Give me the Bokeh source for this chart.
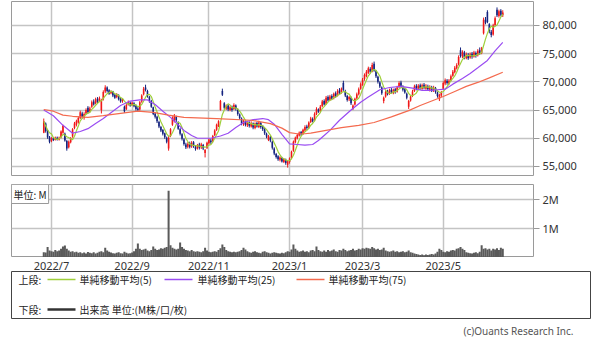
import numpy as np
import pandas as pd
from bokeh.plotting import figure
from bokeh.layouts import column
from bokeh.models import Range1d, FixedTicker, NumeralTickFormatter, Label, ColumnDataSource
from bokeh.core.properties import value
from bokeh.embed import file_html
from bokeh.resources import INLINE

# ---------------- data ----------------
JP_HOLIDAYS = ["2022-07-18", "2022-08-11", "2022-09-19", "2022-09-23", "2022-10-10",
               "2022-11-03", "2022-11-23", "2023-01-02", "2023-01-03", "2023-01-09",
               "2023-02-23", "2023-03-21", "2023-05-03", "2023-05-04", "2023-05-05"]
dates = pd.bdate_range("2022-06-27", "2023-06-16", freq="C", holidays=JP_HOLIDAYS)

tick_labels = ["2022/7", "2022/9", "2022/11", "2023/1", "2023/3", "2023/5"]
price_ticks = [55000, 60000, 65000, 70000, 75000, 80000]
vol_ticks = [1, 2]
vol_tick_labels = ["1M", "2M"]

# prices in thousands of yen
open_k = [61.0, 62.6, 61.4, 60.2, 59.5, 60.0, 59.7, 60.1, 59.8, 60.2,
          61.0, 60.8, 59.5, 58.4, 59.3, 60.3, 61.8, 62.4, 62.8, 63.6,
          64.4, 63.6, 64.4, 65.4, 64.8, 65.6, 66.5, 66.2, 67.0, 66.6,
          65.0, 66.9, 68.3, 69.0, 68.5, 68.0, 68.3, 67.7, 67.3, 67.6,
          67.0, 66.6, 65.6, 65.2, 66.0, 66.3, 65.9, 66.2, 65.8, 65.3,
          65.1, 66.5, 67.8, 69.0, 68.4, 67.3, 66.6, 65.5, 64.4, 63.8,
          62.9, 62.0, 61.5, 60.9, 60.1, 58.2, 60.4, 62.4, 63.0, 63.8,
          62.8, 61.6, 60.7, 59.8, 58.9, 58.5, 59.1, 58.6, 59.3, 58.5,
          58.2, 58.9, 58.4, 58.8, 57.4, 58.3, 59.1, 59.6, 59.5, 60.6,
          61.5, 62.2, 65.0, 68.4, 66.2, 65.3, 65.8, 65.0, 65.6, 65.2,
          65.8, 65.1, 64.2, 63.5, 62.5, 63.0, 62.3, 62.8, 62.1, 62.6,
          61.8, 62.7, 62.0, 62.7, 62.1, 61.6, 60.8, 59.7, 60.2, 59.4,
          58.2, 57.2, 56.8, 56.2, 56.5, 55.8, 56.2, 55.3, 55.8, 56.5,
          57.8, 59.3, 60.0, 60.5, 61.1, 60.8, 61.4, 62.1, 61.9, 62.9,
          63.4, 63.2, 64.3, 65.1, 64.8, 65.7, 66.6, 66.1, 67.3, 66.8,
          67.5, 67.1, 68.0, 67.6, 68.5, 68.1, 69.8, 68.4, 67.5, 66.9,
          67.2, 65.2, 66.0, 67.1, 67.8, 68.8, 69.5, 70.5, 71.0, 71.6,
          72.3, 71.9, 73.2, 71.9, 70.9, 69.9, 69.0, 66.6, 67.4, 68.3,
          67.9, 68.6, 68.0, 68.7, 68.3, 69.1, 69.9, 69.2, 68.7, 67.9,
          65.6, 66.7, 67.5, 68.4, 69.3, 68.8, 69.4, 68.8, 69.5, 68.8,
          69.2, 68.6, 69.0, 68.5, 68.9, 68.1, 66.9, 67.6, 68.8, 69.7,
          70.2, 69.7, 70.3, 71.1, 71.7, 72.4, 73.1, 75.6, 74.5, 75.2,
          74.2, 74.8, 74.3, 75.0, 74.5, 75.1, 74.7, 75.6, 75.1, 78.6,
          81.0, 82.4, 80.2, 78.9, 78.4, 80.1, 82.8, 81.7, 82.6, 81.8]

high_k = [63.5, 62.8, 61.5, 60.4, 60.2, 60.2, 60.3, 60.3, 60.3, 61.4,
          62.4, 61.0, 59.7, 59.6, 60.2, 61.8, 62.9, 63.3, 63.9, 64.9,
          64.7, 64.6, 65.3, 65.7, 65.6, 66.7, 66.9, 67.2, 67.3, 67.4,
          67.0, 68.5, 69.4, 69.2, 68.7, 68.5, 68.4, 67.9, 68.0, 67.8,
          67.2, 67.1, 65.8, 66.1, 66.7, 66.5, 66.5, 66.4, 66.0, 65.6,
          66.6, 67.8, 69.1, 69.5, 68.6, 67.5, 66.8, 65.6, 64.6, 64.0,
          63.1, 62.2, 61.6, 61.0, 60.3, 60.4, 61.8, 63.9, 64.3, 64.0,
          63.0, 61.8, 60.9, 60.0, 59.2, 59.3, 59.4, 59.5, 59.5, 58.8,
          59.0, 59.2, 59.2, 59.0, 58.1, 59.4, 60.0, 59.9, 60.6, 61.6,
          62.6, 63.2, 66.8, 68.8, 66.4, 66.0, 66.0, 65.7, 65.8, 66.2,
          66.0, 65.3, 64.4, 63.7, 63.3, 63.2, 63.1, 63.0, 63.0, 62.8,
          62.8, 62.9, 63.1, 62.9, 62.3, 61.8, 61.0, 60.6, 60.4, 59.6,
          58.4, 57.4, 57.0, 56.8, 56.7, 56.5, 56.4, 56.1, 56.6, 57.8,
          59.6, 60.3, 60.8, 61.2, 61.3, 61.7, 62.3, 62.4, 63.0, 63.8,
          63.7, 64.6, 65.5, 65.3, 65.9, 66.8, 66.9, 67.5, 67.6, 67.7,
          67.8, 68.1, 68.3, 68.7, 68.9, 69.0, 70.2, 68.6, 67.7, 67.5,
          67.4, 66.0, 67.2, 68.1, 69.0, 69.9, 70.7, 71.5, 72.1, 72.7,
          72.6, 73.4, 73.6, 72.1, 71.1, 70.1, 69.2, 67.4, 68.5, 68.6,
          68.8, 68.9, 68.8, 68.9, 69.3, 70.1, 70.2, 69.4, 68.9, 68.1,
          66.8, 67.6, 68.6, 69.5, 69.6, 69.6, 69.7, 69.7, 69.8, 69.6,
          69.5, 69.4, 69.3, 69.3, 69.1, 68.3, 67.9, 68.4, 70.1, 70.6,
          70.5, 70.5, 71.3, 72.1, 72.8, 73.3, 74.7, 76.1, 75.6, 75.5,
          75.2, 75.1, 75.2, 75.3, 75.5, 75.4, 75.8, 76.1, 76.2, 81.4,
          81.5, 82.7, 80.4, 79.2, 80.3, 81.6, 83.2, 82.8, 82.9, 82.7]

low_k = [60.9, 61.0, 59.9, 59.1, 59.3, 59.5, 59.6, 59.6, 59.6, 60.0,
         60.8, 59.4, 57.8, 58.2, 59.1, 60.1, 61.6, 62.1, 62.6, 63.4,
         63.5, 63.3, 64.2, 64.4, 64.6, 65.4, 65.8, 66.0, 66.2, 66.4,
         64.4, 66.7, 68.0, 68.1, 67.7, 67.8, 67.3, 67.0, 67.1, 66.7,
         66.3, 66.3, 64.5, 65.0, 65.8, 65.6, 65.7, 65.5, 64.9, 64.7,
         64.9, 66.3, 67.6, 68.3, 67.2, 66.3, 65.4, 64.1, 63.5, 62.7,
         61.8, 61.1, 60.5, 59.9, 59.1, 57.8, 60.2, 62.2, 62.8, 62.9,
         61.5, 60.5, 59.6, 58.7, 58.1, 58.2, 58.2, 58.3, 58.3, 57.8,
         58.0, 58.0, 58.1, 57.9, 56.6, 58.1, 58.9, 59.0, 59.3, 60.4,
         61.3, 62.0, 64.9, 67.5, 65.1, 65.0, 64.8, 64.8, 64.7, 65.0,
         64.9, 64.0, 63.3, 62.3, 62.2, 62.1, 62.0, 61.9, 61.9, 61.6,
         61.6, 61.9, 61.8, 61.7, 61.3, 60.6, 60.0, 59.5, 59.3, 58.0,
         57.0, 56.4, 56.0, 55.9, 55.7, 55.6, 55.3, 54.8, 55.5, 56.3,
         57.6, 59.1, 59.8, 60.3, 60.4, 60.6, 61.2, 61.5, 61.7, 62.7,
         62.8, 63.0, 64.1, 64.5, 64.6, 65.5, 65.8, 65.9, 66.5, 66.6,
         66.8, 66.9, 67.2, 67.4, 67.8, 67.9, 68.4, 67.3, 66.5, 66.6,
         65.9, 65.0, 65.8, 66.9, 67.6, 68.6, 69.3, 70.2, 70.8, 71.4,
         71.5, 71.7, 71.8, 70.7, 69.7, 68.9, 67.7, 66.2, 67.2, 67.6,
         67.7, 67.9, 67.8, 67.9, 68.1, 68.9, 69.0, 68.3, 67.9, 66.9,
         65.2, 66.5, 67.3, 68.2, 68.5, 68.6, 68.6, 68.6, 68.7, 68.6,
         68.4, 68.3, 68.2, 68.2, 67.9, 67.2, 66.6, 67.3, 68.6, 69.4,
         69.5, 69.5, 70.1, 70.9, 71.5, 72.2, 72.9, 74.3, 74.2, 74.0,
         74.0, 73.9, 74.1, 74.1, 74.3, 74.3, 74.5, 74.8, 74.9, 78.4,
         80.2, 80.4, 78.6, 77.9, 78.2, 79.9, 81.5, 81.4, 81.6, 81.5]

close_k = [63.0, 61.3, 60.2, 59.4, 60.0, 59.7, 60.1, 59.8, 60.1, 61.2,
           62.2, 59.6, 58.2, 59.4, 60.0, 61.6, 62.6, 63.0, 63.6, 64.6,
           63.8, 64.3, 65.0, 64.6, 65.3, 66.4, 66.0, 66.9, 66.4, 67.1,
           66.8, 68.2, 69.0, 68.4, 67.9, 68.3, 67.6, 67.2, 67.8, 66.9,
           66.5, 66.9, 64.8, 65.9, 66.4, 65.8, 66.3, 65.7, 65.2, 65.0,
           66.4, 67.6, 68.8, 68.6, 67.4, 66.6, 65.6, 64.3, 63.8, 63.0,
           62.1, 61.4, 60.8, 60.2, 59.4, 60.1, 61.6, 63.6, 64.0, 63.2,
           61.7, 60.8, 59.9, 59.0, 58.4, 59.0, 58.5, 59.2, 58.6, 58.1,
           58.8, 58.3, 58.9, 58.2, 57.9, 59.2, 59.8, 59.3, 60.4, 61.4,
           62.4, 63.0, 66.6, 67.7, 65.4, 65.8, 65.1, 65.5, 65.0, 65.9,
           65.2, 64.3, 63.6, 62.6, 63.0, 62.4, 62.9, 62.2, 62.7, 61.9,
           62.6, 62.1, 62.8, 62.0, 61.6, 60.9, 60.3, 60.4, 59.6, 58.3,
           57.3, 56.7, 56.3, 56.6, 55.9, 56.3, 55.6, 55.9, 56.4, 57.6,
           59.4, 60.1, 60.6, 61.0, 60.7, 61.5, 62.0, 61.8, 62.8, 63.5,
           63.0, 64.3, 65.2, 64.7, 65.6, 66.5, 66.0, 67.2, 66.7, 67.4,
           67.0, 67.9, 67.5, 68.4, 68.0, 68.8, 68.6, 67.6, 66.8, 67.3,
           66.2, 65.8, 67.0, 67.8, 68.7, 69.6, 70.4, 71.2, 71.8, 72.4,
           71.8, 73.0, 72.0, 71.0, 70.0, 69.2, 68.0, 67.2, 68.2, 67.8,
           68.5, 68.1, 68.6, 68.2, 69.0, 69.8, 69.3, 68.6, 68.1, 67.2,
           66.6, 67.4, 68.3, 69.2, 68.7, 69.3, 68.9, 69.4, 68.9, 69.3,
           68.7, 69.1, 68.4, 69.0, 68.2, 67.5, 67.7, 68.2, 69.8, 70.3,
           69.8, 70.2, 71.0, 71.8, 72.5, 73.0, 74.4, 74.6, 75.3, 74.3,
           74.9, 74.2, 74.9, 74.4, 75.2, 74.6, 75.5, 75.0, 75.9, 81.0,
           80.5, 80.6, 79.0, 78.3, 80.0, 81.3, 81.8, 82.5, 81.9, 82.3]

# volume in millions
volume_m = [0.18, 0.17, 0.36, 0.24, 0.22, 0.20, 0.26, 0.22, 0.24, 0.30,
            0.38, 0.41, 0.30, 0.24, 0.20, 0.22, 0.18, 0.20, 0.16, 0.18,
            0.15, 0.17, 0.14, 0.19, 0.16, 0.15, 0.18, 0.14, 0.16, 0.20,
            0.22, 0.18, 0.34, 0.24, 0.20, 0.17, 0.15, 0.14, 0.16, 0.18,
            0.15, 0.14, 0.20, 0.16, 0.14, 0.15, 0.17, 0.22, 0.30, 0.48,
            0.30, 0.26, 0.28, 0.30, 0.24, 0.22, 0.26, 0.38, 0.30, 0.26,
            0.28, 0.32, 0.30, 0.34, 0.36, 2.30, 0.42, 0.34, 0.30, 0.28,
            0.30, 0.52, 0.36, 0.30, 0.26, 0.24, 0.22, 0.26, 0.22, 0.20,
            0.22, 0.20, 0.18, 0.22, 0.34, 0.24, 0.20, 0.18, 0.20, 0.22,
            0.20, 0.26, 0.32, 0.45, 0.36, 0.26, 0.22, 0.20, 0.18, 0.20,
            0.18, 0.20, 0.22, 0.26, 0.34, 0.28, 0.22, 0.18, 0.16, 0.20,
            0.22, 0.18, 0.16, 0.15, 0.20, 0.22, 0.18, 0.16, 0.14, 0.16,
            0.18, 0.16, 0.15, 0.14, 0.16, 0.15, 0.18, 0.22, 0.20, 0.28,
            0.45, 0.30, 0.24, 0.20, 0.22, 0.24, 0.20, 0.22, 0.18, 0.24,
            0.26, 0.22, 0.38, 0.26, 0.22, 0.20, 0.24, 0.20, 0.26, 0.22,
            0.24, 0.28, 0.22, 0.20, 0.26, 0.24, 0.30, 0.26, 0.22, 0.24,
            0.26, 0.30, 0.24, 0.26, 0.30, 0.28, 0.32, 0.30, 0.34, 0.32,
            0.30, 0.36, 0.32, 0.28, 0.30, 0.26, 0.28, 0.34, 0.24, 0.22,
            0.20, 0.22, 0.24, 0.20, 0.22, 0.18, 0.20, 0.22, 0.18, 0.20,
            0.24, 0.18, 0.16, 0.14, 0.12, 0.10, 0.09, 0.10, 0.08, 0.10,
            0.09, 0.10, 0.12, 0.10, 0.14, 0.20, 0.30, 0.26, 0.20, 0.18,
            0.22, 0.20, 0.24, 0.26, 0.24, 0.30, 0.32, 0.36, 0.30, 0.26,
            0.18, 0.16, 0.15, 0.14, 0.16, 0.18, 0.15, 0.20, 0.42, 0.30,
            0.32, 0.28, 0.30, 0.24, 0.30, 0.28, 0.32, 0.26, 0.34, 0.30]

# moving averages (trading-day index, thousands of yen)
ma25_idx = [0, 5, 10, 15, 19, 23, 27, 31, 36, 40, 45, 50, 54, 58, 62, 66, 70, 73, 77, 80,
            87, 92, 96, 100, 104, 109, 114, 117, 120, 124, 128, 132, 136, 140, 143, 146, 149, 154, 160, 165,
            169, 175, 180, 186, 192, 197, 201, 205, 209, 213, 218, 222, 226, 231, 235, 239]
ma25_k = [65.0, 64.0, 62.3, 60.9, 61.2, 61.7, 62.6, 63.5, 64.8, 65.8, 66.6, 66.8, 66.8, 66.0, 64.8, 63.7, 62.4, 61.4, 60.5, 60.0,
          60.0, 60.4, 60.9, 61.9, 62.8, 63.3, 63.5, 63.3, 62.5, 60.7, 59.0, 58.9, 58.8, 58.9, 59.6, 60.5, 61.4, 63.2, 65.0, 66.4,
          67.3, 68.6, 69.0, 69.2, 68.9, 68.5, 68.5, 68.6, 68.7, 69.6, 70.6, 71.5, 72.5, 73.8, 75.5, 77.0]
ma75_idx = [0, 5, 10, 15, 23, 31, 40, 49, 57, 65, 73, 90, 108, 118, 124, 128, 132, 136, 139, 147,
            155, 164, 172, 181, 190, 196, 202, 208, 214, 220, 226, 232, 239]
ma75_k = [65.1, 64.8, 64.1, 63.9, 63.7, 64.0, 64.4, 64.8, 64.6, 64.1, 63.7, 63.5, 63.2, 62.6, 61.8, 61.0, 60.8, 60.8, 60.9, 61.4,
          61.9, 62.3, 62.8, 63.8, 64.9, 65.8, 66.6, 67.4, 68.3, 69.2, 69.9, 70.7, 71.7]

# ---------------- prepare ----------------
FONT = "Noto Sans CJK JP"
NUMFONT = "Noto Sans"
UP, DOWN = "#f01818", "#14237f"
MA_COLORS = ["#9fcf3a", "#9a4cf2", "#f46a4e"]
n = len(close_k)
xs = np.arange(n)
o = np.array(open_k) * 1000
h = np.array(high_k) * 1000
l = np.array(low_k) * 1000
c = np.array(close_k) * 1000
colors = [UP if cc >= oo else DOWN for oo, cc in zip(o, c)]
src = ColumnDataSource(dict(x=xs, h=h, l=l, top=np.maximum(o, c), bot=np.minimum(o, c), color=colors))
ma5 = pd.Series(c).rolling(5, min_periods=1).mean().values

tick_idx = []
for lab in tick_labels:
    yy, mm = map(int, lab.split("/"))
    tick_idx.append(int(np.argmax((dates.year == yy) & (dates.month == mm))))

x_range = Range1d(-16.8, 255.0)
GRID = "#c4c4c4"
OUTLINE = "#9a9a9a"
BL, BR = 11, 67


def style_right_axis(ax):
    ax.axis_line_color = None
    ax.major_tick_in = 0
    ax.major_tick_out = 6
    ax.major_tick_line_color = "#999999"
    ax.minor_tick_line_color = None
    ax.major_label_standoff = 3
    ax.major_label_text_font = NUMFONT
    ax.major_label_text_font_size = "11px"
    ax.major_label_text_color = "#333333"


# ---------------- price panel ----------------
p1 = figure(width=600, height=177, x_range=x_range, y_range=Range1d(53400, 84250),
            x_axis_location=None, y_axis_location="right",
            output_backend="svg", toolbar_location=None,
            min_border_left=BL, min_border_right=BR, min_border_top=1, min_border_bottom=2)
p1.outline_line_color = OUTLINE
p1.xgrid.ticker = FixedTicker(ticks=tick_idx)
p1.ygrid.ticker = FixedTicker(ticks=price_ticks)
p1.grid.grid_line_color = GRID
p1.grid.grid_line_width = 1.5
ya = p1.yaxis[0]
ya.ticker = FixedTicker(ticks=price_ticks)
ya.formatter = NumeralTickFormatter(format="0,0")
style_right_axis(ya)

p1.segment(x0="x", y0="h", x1="x", y1="l", line_color="color", line_width=1, source=src)
p1.vbar(x="x", width=0.82, top="top", bottom="bot", fill_color="color", line_color=None, source=src)
p1.line(xs, ma5, line_color=MA_COLORS[0], line_width=1.2)
p1.line(ma25_idx, np.array(ma25_k) * 1000, line_color=MA_COLORS[1], line_width=1.2)
p1.line(ma75_idx, np.array(ma75_k) * 1000, line_color=MA_COLORS[2], line_width=1.2)

# ---------------- volume panel ----------------
p2 = figure(width=600, height=80, x_range=x_range, y_range=Range1d(0, 2.52),
            x_axis_location=None, y_axis_location="right",
            output_backend="svg", toolbar_location=None,
            min_border_left=BL, min_border_right=BR, min_border_top=7, min_border_bottom=0)
p2.outline_line_color = OUTLINE
p2.xgrid.ticker = FixedTicker(ticks=tick_idx)
p2.ygrid.ticker = FixedTicker(ticks=vol_ticks)
p2.grid.grid_line_color = GRID
p2.grid.grid_line_width = 1.5
ya2 = p2.yaxis[0]
ya2.ticker = FixedTicker(ticks=vol_ticks)
ya2.major_label_overrides = {t: s for t, s in zip(vol_ticks, vol_tick_labels)}
style_right_axis(ya2)

p2.vbar(x=xs, width=1.05, top=volume_m, bottom=0, fill_color="#5a5a5a", line_color=None)
p2.add_layout(Label(x=x_range.start, y=2.52, text="単位: M", text_font=FONT, text_font_size="10px",
                    text_align="left", text_baseline="top", text_color="#222222",
                    background_fill_color="white", border_line_color="#999999", padding=2))

# ---------------- date labels + legend panel ----------------
# x: shared trading-day range for the date labels, "px" range (page pixels) for the legend
p3 = figure(width=600, height=82, x_range=x_range, y_range=Range1d(82, 0),
            x_axis_location=None, y_axis_location=None,
            output_backend="svg", toolbar_location=None,
            min_border_left=BL, min_border_right=BR, min_border_top=0, min_border_bottom=0)
p3.extra_x_ranges = {"px": Range1d(BL, 600 - BR)}
p3.grid.visible = False
p3.outline_line_color = None
rs = []
rs.append(p3.text(x=tick_idx, y=[8] * len(tick_idx), text=tick_labels, text_font=value(NUMFONT),
                  text_font_size="11px", text_align="center", text_baseline="middle", text_color="#333333"))
rs.append(p3.quad(left=[11], right=[590], top=[14], bottom=[61], fill_color="white",
                  line_color="#444444", line_width=1, x_range_name="px"))
row1, row2 = 22, 52
rs.append(p3.segment(x0=[47, 164, 296], y0=[row1] * 3, x1=[75, 192, 324], y1=[row1] * 3,
                     line_color=MA_COLORS, line_width=1.5, x_range_name="px"))
rs.append(p3.segment(x0=[47], y0=[row2], x1=[75], y1=[row2], line_color="#333333", line_width=2.5,
                     x_range_name="px"))
rs.append(p3.text(x=[18, 79, 197, 328, 18, 79], y=[row1, row1, row1, row1, row2, row2],
                  text=["上段:", "単純移動平均(5)", "単純移動平均(25)", "単純移動平均(75)", "下段:",
                        "出来高 単位:(M株/口/枚)"],
                  text_font=value(FONT), text_font_size="10px", text_align="left", text_baseline="middle",
                  text_color="#222222", x_range_name="px"))
rs.append(p3.text(x=[573], y=[73], text=["(c)Ouants Research Inc."], text_font=value(NUMFONT),
                  text_font_size="10px", text_align="right", text_baseline="middle", text_color="#555555",
                  x_range_name="px"))
for r in rs:
    r.level = "overlay"

layout = column(p1, p2, p3)
open("out.html", "w").write(file_html(layout, INLINE, title="chart"))
